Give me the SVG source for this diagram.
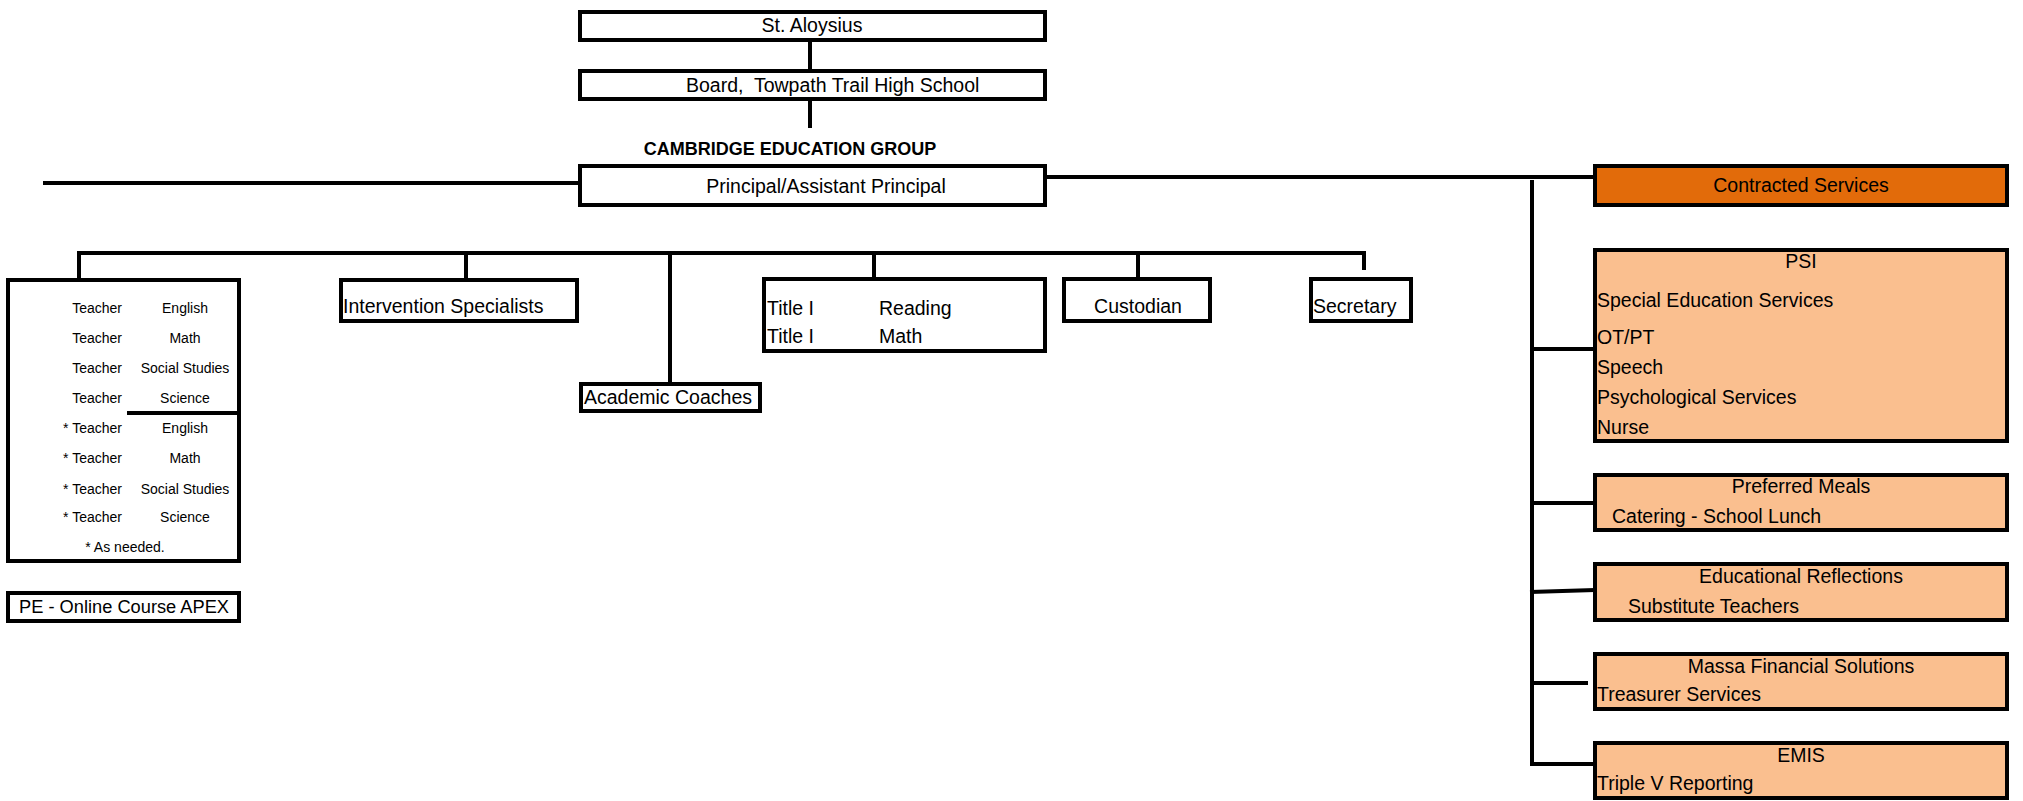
<svg xmlns="http://www.w3.org/2000/svg" width="2023" height="801" viewBox="0 0 2023 801">
<style>
.box{fill:#fff;stroke:#000;stroke-width:4}
.dk{fill:#E26B0A;stroke:#000;stroke-width:4}
.lt{fill:#FABF8F;stroke:#000;stroke-width:4}
.ln{stroke:#000;stroke-width:4;fill:none}
text{font-family:"Liberation Sans",Arial,sans-serif;font-size:19.5px;fill:#000}
.c{text-anchor:middle}
.e{text-anchor:end}
.b{font-weight:bold;font-size:18px}
.s{font-size:14px}
</style>
<rect width="2023" height="801" fill="#fff"/>
<g id="connectors" class="ln">
<line x1="810" y1="42" x2="810" y2="69"/>
<line x1="810" y1="101" x2="810" y2="128"/>
<line x1="43" y1="183" x2="580" y2="183"/>
<line x1="1045" y1="177" x2="1595" y2="177"/>
<line x1="1532" y1="180" x2="1532" y2="766"/>
<line x1="77" y1="253" x2="1366" y2="253"/>
<line x1="79" y1="253" x2="79" y2="278"/>
<line x1="466" y1="253" x2="466" y2="278"/>
<line x1="670" y1="253" x2="670" y2="384"/>
<line x1="874" y1="253" x2="874" y2="277"/>
<line x1="1138" y1="253" x2="1138" y2="277"/>
<line x1="1364" y1="253" x2="1364" y2="270"/>
<line x1="1530" y1="349" x2="1595" y2="349"/>
<line x1="1530" y1="503" x2="1595" y2="503"/>
<line x1="1530" y1="592" x2="1595" y2="590"/>
<line x1="1530" y1="683" x2="1588" y2="683"/>
<line x1="1530" y1="764" x2="1595" y2="764"/>
</g>
<g id="st-aloysius"><rect class="box" x="580" y="12" width="465" height="28"/><text class="c" x="812" y="32">St. Aloysius</text></g>
<g id="board"><rect class="box" x="580" y="71" width="465" height="28"/><text x="686" y="92" xml:space="preserve">Board,  Towpath Trail High School</text></g>
<g id="cambridge"><text class="c b" x="790" y="155">CAMBRIDGE EDUCATION GROUP</text></g>
<g id="principal"><rect class="box" x="580" y="166" width="465" height="39"/><text class="c" x="826" y="193">Principal/Assistant Principal</text></g>
<g id="teachers">
<rect class="box" x="8" y="280" width="231" height="281"/>
<line class="ln" x1="127" y1="413" x2="241" y2="413"/>
<g class="s">
<text class="s e" x="122" y="313">Teacher</text><text class="s c" x="185" y="313">English</text>
<text class="s e" x="122" y="343">Teacher</text><text class="s c" x="185" y="343">Math</text>
<text class="s e" x="122" y="373">Teacher</text><text class="s c" x="185" y="373">Social Studies</text>
<text class="s e" x="122" y="403">Teacher</text><text class="s c" x="185" y="403">Science</text>
<text class="s e" x="122" y="433">* Teacher</text><text class="s c" x="185" y="433">English</text>
<text class="s e" x="122" y="463">* Teacher</text><text class="s c" x="185" y="463">Math</text>
<text class="s e" x="122" y="494">* Teacher</text><text class="s c" x="185" y="494">Social Studies</text>
<text class="s e" x="122" y="522">* Teacher</text><text class="s c" x="185" y="522">Science</text>
<text class="s c" x="125" y="552">* As needed.</text>
</g>
</g>
<g id="pe"><rect class="box" x="8" y="593" width="231" height="28"/><text x="19" y="613" style="font-size:18px" textLength="210" lengthAdjust="spacingAndGlyphs">PE - Online Course APEX</text></g>
<g id="intervention"><rect class="box" x="341" y="280" width="236" height="41"/><text x="343" y="313">Intervention Specialists</text></g>
<g id="academic"><rect class="box" x="581" y="384" width="179" height="27"/><text x="584" y="404">Academic Coaches</text></g>
<g id="title1"><rect class="box" x="764" y="279" width="281" height="72"/>
<text x="767" y="315">Title I</text><text x="879" y="315">Reading</text>
<text x="767" y="343">Title I</text><text x="879" y="343">Math</text></g>
<g id="custodian"><rect class="box" x="1064" y="279" width="146" height="42"/><text class="c" x="1138" y="313">Custodian</text></g>
<g id="secretary"><rect class="box" x="1311" y="279" width="100" height="42"/><text x="1313" y="313">Secretary</text></g>
<g id="contracted"><rect class="dk" x="1595" y="166" width="412" height="39"/><text class="c" x="1801" y="192">Contracted Services</text></g>
<g id="psi"><rect class="lt" x="1595" y="250" width="412" height="191"/>
<text class="c" x="1801" y="268">PSI</text>
<text x="1597" y="307">Special Education Services</text>
<text x="1597" y="344">OT/PT</text>
<text x="1597" y="374">Speech</text>
<text x="1597" y="404">Psychological Services</text>
<text x="1597" y="434">Nurse</text></g>
<g id="meals"><rect class="lt" x="1595" y="475" width="412" height="55"/>
<text class="c" x="1801" y="493">Preferred Meals</text><text x="1612" y="523">Catering - School Lunch</text></g>
<g id="reflections"><rect class="lt" x="1595" y="564" width="412" height="56"/>
<text class="c" x="1801" y="583">Educational Reflections</text><text x="1628" y="613">Substitute Teachers</text></g>
<g id="massa"><rect class="lt" x="1595" y="654" width="412" height="55"/>
<text class="c" x="1801" y="673">Massa Financial Solutions</text><text x="1597" y="701">Treasurer Services</text></g>
<g id="emis"><rect class="lt" x="1595" y="743" width="412" height="55"/>
<text class="c" x="1801" y="762">EMIS</text><text x="1597" y="790">Triple V Reporting</text></g>
</svg>
